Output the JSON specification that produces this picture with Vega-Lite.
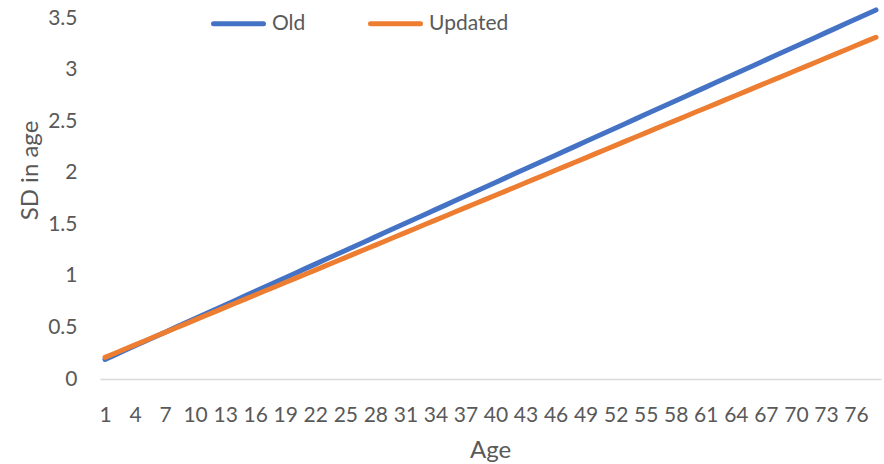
{
  "$schema": "https://vega.github.io/schema/vega-lite/v6.json",
  "width": 781,
  "height": 361,
  "autosize": {"type": "none"},
  "padding": {"left": 100, "top": 18, "right": 3, "bottom": 85},
  "background": "white",
  "config": {
    "view": {"stroke": null},
    "font": "Lato"
  },
  "data": {"values": [
    {"age": 1, "Old": 0.190, "Updated": 0.210},
    {"age": 2, "Old": 0.234, "Updated": 0.250},
    {"age": 3, "Old": 0.278, "Updated": 0.291},
    {"age": 4, "Old": 0.322, "Updated": 0.331},
    {"age": 5, "Old": 0.366, "Updated": 0.371},
    {"age": 6, "Old": 0.410, "Updated": 0.412},
    {"age": 7, "Old": 0.454, "Updated": 0.452},
    {"age": 8, "Old": 0.498, "Updated": 0.492},
    {"age": 9, "Old": 0.542, "Updated": 0.532},
    {"age": 10, "Old": 0.586, "Updated": 0.573},
    {"age": 11, "Old": 0.630, "Updated": 0.613},
    {"age": 12, "Old": 0.674, "Updated": 0.653},
    {"age": 13, "Old": 0.718, "Updated": 0.694},
    {"age": 14, "Old": 0.762, "Updated": 0.734},
    {"age": 15, "Old": 0.806, "Updated": 0.774},
    {"age": 16, "Old": 0.850, "Updated": 0.815},
    {"age": 17, "Old": 0.894, "Updated": 0.855},
    {"age": 18, "Old": 0.938, "Updated": 0.895},
    {"age": 19, "Old": 0.982, "Updated": 0.935},
    {"age": 20, "Old": 1.026, "Updated": 0.976},
    {"age": 21, "Old": 1.070, "Updated": 1.016},
    {"age": 22, "Old": 1.114, "Updated": 1.056},
    {"age": 23, "Old": 1.158, "Updated": 1.097},
    {"age": 24, "Old": 1.202, "Updated": 1.137},
    {"age": 25, "Old": 1.246, "Updated": 1.177},
    {"age": 26, "Old": 1.290, "Updated": 1.218},
    {"age": 27, "Old": 1.334, "Updated": 1.258},
    {"age": 28, "Old": 1.378, "Updated": 1.298},
    {"age": 29, "Old": 1.422, "Updated": 1.338},
    {"age": 30, "Old": 1.466, "Updated": 1.379},
    {"age": 31, "Old": 1.510, "Updated": 1.419},
    {"age": 32, "Old": 1.554, "Updated": 1.459},
    {"age": 33, "Old": 1.598, "Updated": 1.500},
    {"age": 34, "Old": 1.642, "Updated": 1.540},
    {"age": 35, "Old": 1.686, "Updated": 1.580},
    {"age": 36, "Old": 1.730, "Updated": 1.621},
    {"age": 37, "Old": 1.774, "Updated": 1.661},
    {"age": 38, "Old": 1.818, "Updated": 1.701},
    {"age": 39, "Old": 1.862, "Updated": 1.741},
    {"age": 40, "Old": 1.906, "Updated": 1.782},
    {"age": 41, "Old": 1.950, "Updated": 1.822},
    {"age": 42, "Old": 1.994, "Updated": 1.862},
    {"age": 43, "Old": 2.038, "Updated": 1.903},
    {"age": 44, "Old": 2.082, "Updated": 1.943},
    {"age": 45, "Old": 2.126, "Updated": 1.983},
    {"age": 46, "Old": 2.170, "Updated": 2.024},
    {"age": 47, "Old": 2.214, "Updated": 2.064},
    {"age": 48, "Old": 2.258, "Updated": 2.104},
    {"age": 49, "Old": 2.302, "Updated": 2.144},
    {"age": 50, "Old": 2.346, "Updated": 2.185},
    {"age": 51, "Old": 2.390, "Updated": 2.225},
    {"age": 52, "Old": 2.434, "Updated": 2.265},
    {"age": 53, "Old": 2.478, "Updated": 2.306},
    {"age": 54, "Old": 2.522, "Updated": 2.346},
    {"age": 55, "Old": 2.566, "Updated": 2.386},
    {"age": 56, "Old": 2.610, "Updated": 2.427},
    {"age": 57, "Old": 2.654, "Updated": 2.467},
    {"age": 58, "Old": 2.698, "Updated": 2.507},
    {"age": 59, "Old": 2.742, "Updated": 2.547},
    {"age": 60, "Old": 2.786, "Updated": 2.588},
    {"age": 61, "Old": 2.830, "Updated": 2.628},
    {"age": 62, "Old": 2.874, "Updated": 2.668},
    {"age": 63, "Old": 2.918, "Updated": 2.709},
    {"age": 64, "Old": 2.962, "Updated": 2.749},
    {"age": 65, "Old": 3.006, "Updated": 2.789},
    {"age": 66, "Old": 3.050, "Updated": 2.830},
    {"age": 67, "Old": 3.094, "Updated": 2.870},
    {"age": 68, "Old": 3.138, "Updated": 2.910},
    {"age": 69, "Old": 3.182, "Updated": 2.950},
    {"age": 70, "Old": 3.226, "Updated": 2.991},
    {"age": 71, "Old": 3.270, "Updated": 3.031},
    {"age": 72, "Old": 3.314, "Updated": 3.071},
    {"age": 73, "Old": 3.358, "Updated": 3.112},
    {"age": 74, "Old": 3.402, "Updated": 3.152},
    {"age": 75, "Old": 3.446, "Updated": 3.192},
    {"age": 76, "Old": 3.490, "Updated": 3.233},
    {"age": 77, "Old": 3.534, "Updated": 3.273},
    {"age": 78, "Old": 3.578, "Updated": 3.313}
  ]},
  "transform": [{"fold": ["Old", "Updated"], "as": ["series", "sd"]}],
  "mark": {"type": "line", "strokeWidth": 5, "strokeCap": "round", "strokeJoin": "round", "clip": false},
  "encoding": {
    "x": {
      "field": "age",
      "type": "ordinal",
      "sort": "ascending",
      "scale": {"type": "point", "padding": 0.5},
      "axis": {
        "title": "Age",
        "values": [1, 4, 7, 10, 13, 16, 19, 22, 25, 28, 31, 34, 37, 40, 43, 46, 49, 52, 55, 58, 61, 64, 67, 70, 73, 76],
        "labelAngle": 0,
        "labelFont": "Lato",
        "labelFontSize": 21,
        "labelColor": "#595959",
        "labelPadding": 25,
        "labelOverlap": false,
        "labelBound": false,
        "labelFlush": false,
        "ticks": false,
        "grid": false,
        "domain": true,
        "domainColor": "#D9D9D9",
        "domainWidth": 1.3,
        "titleFont": "Lato",
        "titleFontSize": 24,
        "titleFontWeight": "normal",
        "titleColor": "#595959",
        "titleBaseline": "alphabetic",
        "titleY": 78,
        "titleX": 390
      }
    },
    "y": {
      "field": "sd",
      "type": "quantitative",
      "scale": {"domain": [0, 3.5], "nice": false, "zero": true},
      "axis": {
        "title": "SD in age",
        "values": [0, 0.5, 1, 1.5, 2, 2.5, 3, 3.5],
        "format": "~g",
        "labelFont": "Lato",
        "labelFontSize": 21,
        "labelColor": "#595959",
        "labelPadding": 23,
        "labelBound": false,
        "labelFlush": false,
        "ticks": false,
        "grid": false,
        "domain": false,
        "titleFont": "Lato",
        "titleFontSize": 24,
        "titleFontWeight": "normal",
        "titleColor": "#595959",
        "titleAngle": -90,
        "titleBaseline": "alphabetic",
        "titleAlign": "center",
        "titleX": -63,
        "titleY": 152
      }
    },
    "color": {
      "field": "series",
      "type": "nominal",
      "scale": {"domain": ["Old", "Updated"], "range": ["#4472C4", "#ED7D31"]},
      "legend": {
        "orient": "none",
        "legendX": 111,
        "legendY": -22,
        "direction": "horizontal",
        "title": null,
        "symbolType": "stroke",
        "symbolSize": 2500,
        "symbolStrokeWidth": 5,
        "labelFont": "Lato",
        "labelFontSize": 21,
        "labelColor": "#595959",
        "labelOffset": 6,
        "columnPadding": 54,
        "padding": 0,
        "encode": {"symbols": {"update": {"strokeCap": {"value": "round"}}}}
      }
    }
  }
}
